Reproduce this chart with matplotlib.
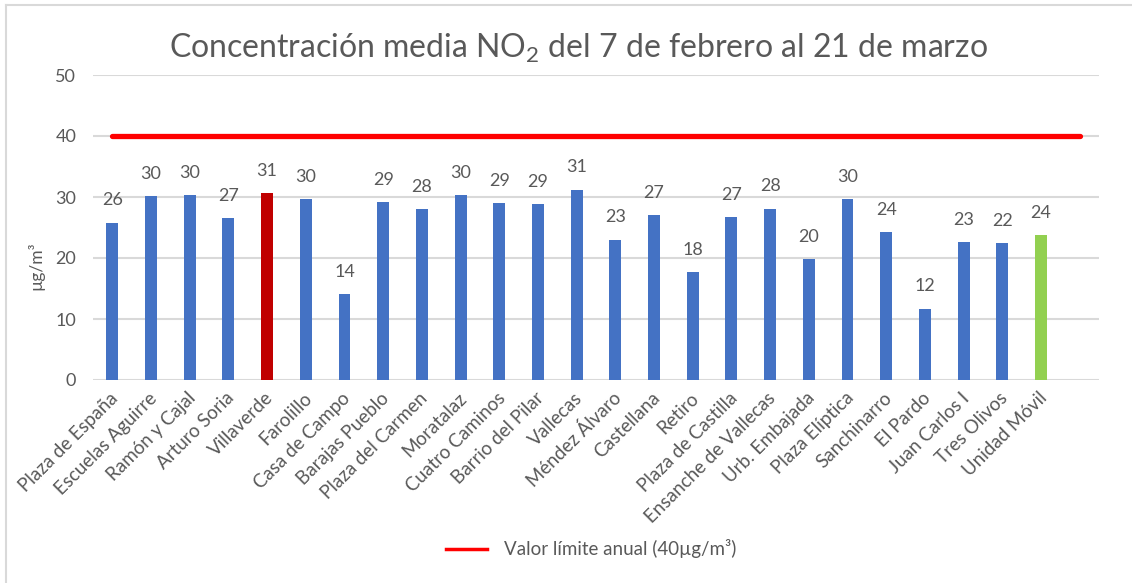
import matplotlib
matplotlib.use("Agg")
import matplotlib.pyplot as plt
from matplotlib.lines import Line2D
import numpy as np

plt.rcParams['font.family'] = ['Lato', 'DejaVu Sans']
plt.rcParams['mathtext.fontset'] = 'custom'
plt.rcParams['mathtext.rm'] = 'Lato'
plt.rcParams['mathtext.it'] = 'Lato:italic'
plt.rcParams['mathtext.bf'] = 'Lato:bold'

stations = ["Plaza de España", "Escuelas Aguirre", "Ramón y Cajal", "Arturo Soria",
            "Villaverde", "Farolillo", "Casa de Campo", "Barajas Pueblo",
            "Plaza del Carmen", "Moratalaz", "Cuatro Caminos", "Barrio del Pilar",
            "Vallecas", "Méndez Álvaro", "Castellana", "Retiro", "Plaza de Castilla",
            "Ensanche de Vallecas", "Urb. Embajada", "Plaza Elíptica", "Sanchinarro",
            "El Pardo", "Juan Carlos I", "Tres Olivos", "Unidad Móvil"]
values = [25.8, 30.2, 30.3, 26.6, 30.6, 29.7, 14.1, 29.1,
          28.0, 30.3, 29.0, 28.8, 31.2, 23.0, 27.0, 17.7, 26.7,
          28.1, 19.8, 29.6, 24.3, 11.7, 22.6, 22.4, 23.7]
limit_value = 40
yticks = [0, 10, 20, 30, 40, 50]

BLUE = "#4472C4"
RED_BAR = "#C00000"
GREEN = "#92D050"
TXT = "#595959"
GRID = "#D9D9D9"

colors = [BLUE] * len(stations)
colors[stations.index("Villaverde")] = RED_BAR
colors[stations.index("Unidad Móvil")] = GREEN

W, H = 1132, 583
fig = plt.figure(figsize=(W / 100, H / 100), dpi=100)
ax = fig.add_axes([93 / W, 1 - 380 / H, (1099 - 93) / W, (380 - 75) / H])

x = np.arange(len(stations))
ax.bar(x, values, width=0.31, color=colors, zorder=3)

# limit line spans one extra category position
xl = np.arange(len(stations) + 1)
ax.plot(xl, [limit_value] * len(xl), color="#FF0000", lw=3.8,
        solid_capstyle="round", zorder=4)

for xi, v in zip(x, values):
    ax.annotate(f"{round(v):d}", (xi, v), xytext=(0, 16), textcoords="offset points",
                ha="center", va="center", fontsize=13, color=TXT)

ax.set_xlim(-0.5, len(stations) + 0.5)
ax.set_ylim(0, 50)
ax.set_yticks(yticks)
ax.set_yticklabels([str(t) for t in yticks])
ax.yaxis.grid(True, color=GRID, lw=1.5, zorder=0)
ax.set_axisbelow(True)
for s in ax.spines.values():
    s.set_visible(False)
ax.tick_params(axis="y", length=0, pad=12, labelsize=13, labelcolor=TXT)
ax.tick_params(axis="x", length=0, pad=11, labelsize=13.5, labelcolor=TXT)
ax.set_xticks(x + 0.08)
ax.set_xticklabels(stations, rotation=45, ha="right", rotation_mode="anchor", va="center")

ax.set_ylabel("µg/m³", fontsize=12.5, color=TXT)
ax.yaxis.set_label_coords((44 - 93) / (1099 - 93), (380 - 266) / (380 - 75))

fig.text(578 / W, 1 - 48 / H, r"Concentración media NO$_2$ del 7 de febrero al 21 de marzo",
         ha="center", va="center", fontsize=23, color=TXT)

handle = Line2D([], [], color="#FF0000", lw=2.5)
fig.legend([handle], ["Valor límite anual (40µg/m³)"], loc="center",
           bbox_to_anchor=(591 / W, 1 - 549 / H), frameon=False, fontsize=13.5,
           labelcolor=TXT, handlelength=2.2, handletextpad=0.9)

# chart-area border (top and left visible)
fig.add_artist(Line2D([6 / W, 6 / W], [0, 1 - 5 / H], color=GRID, lw=1.5,
                      transform=fig.transFigure))
fig.add_artist(Line2D([6 / W, 1], [1 - 5 / H, 1 - 5 / H], color=GRID, lw=1.5,
                      transform=fig.transFigure))

fig.savefig("out.png", dpi=100, facecolor="white")
